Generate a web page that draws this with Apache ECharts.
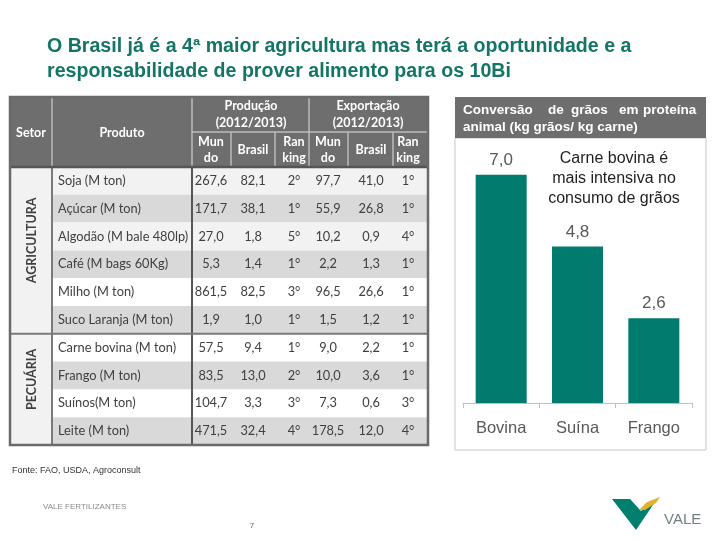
<!DOCTYPE html>
<html>
<head>
<meta charset="utf-8">
<script src="https://cdn.jsdelivr.net/npm/echarts@6/dist/echarts.min.js"></script>
<style>
html,body{margin:0;padding:0;background:#fff;}
#c{width:720px;height:540px;}
</style>
</head>
<body>
<div id="c"></div>
<script>
// ---------- DATA ----------
const titleLines = ['O Brasil já é a 4ª maior agricultura mas terá a oportunidade e a', 'responsabilidade de prover alimento para os 10Bi'];
const sectors = ['AGRICULTURA', 'PECUÁRIA'];
const sectorRowCounts = [6, 4];
const products = ['Soja (M ton)', 'Açúcar (M ton)', 'Algodão (M bale 480lp)', 'Café (M bags 60Kg)', 'Milho (M ton)', 'Suco Laranja (M ton)', 'Carne bovina (M ton)', 'Frango (M ton)', 'Suínos(M ton)', 'Leite (M ton)'];
const prodMundo = [267.6, 171.7, 27.0, 5.3, 861.5, 1.9, 57.5, 83.5, 104.7, 471.5];
const prodBrasil = [82.1, 38.1, 1.8, 1.4, 82.5, 1.0, 9.4, 13.0, 3.3, 32.4];
const prodRank = [2, 1, 5, 1, 3, 1, 1, 2, 3, 4];
const expMundo = [97.7, 55.9, 10.2, 2.2, 96.5, 1.5, 9.0, 10.0, 7.3, 178.5];
const expBrasil = [41.0, 26.8, 0.9, 1.3, 26.6, 1.2, 2.2, 3.6, 0.6, 12.0];
const expRank = [1, 1, 4, 1, 1, 1, 1, 1, 3, 4];
const convCategories = ['Bovina', 'Suína', 'Frango'];
const convValues = [7.0, 4.8, 2.6];
const panelTitle = ['Conversão de grãos em proteína', 'animal (kg grãos/ kg carne)'];
const noteLines = ['Carne bovina é', 'mais intensiva no', 'consumo de grãos'];
const sourceText = 'Fonte: FAO, USDA, Agroconsult';
const footerLeft = 'VALE FERTILIZANTES';
const pageNumber = '7';

// ---------- LAYOUT ----------
const T = {l: 10, r: 428, top: 97, sub: 132, head: 167, rowH: 27.8};
const colX = [10, 52, 192, 231, 275, 309, 348, 393, 428];
const numCenters = [211, 253, 294, 328, 371, 408];
const rowFills = ['#f2f2f2', '#d9d9d9', '#f2f2f2', '#d9d9d9', '#ffffff', '#d9d9d9', '#ffffff', '#d9d9d9', '#ffffff', '#d9d9d9'];
const tableFont = 'Lato, "Open Sans", sans-serif';
const arial = '"Liberation Sans", Arial, sans-serif';
const fmt = v => v.toFixed(1).replace('.', ',');

const g = [];
const bottom = T.head + T.rowH * products.length;

// header background
g.push({type: 'rect', shape: {x: T.l, y: T.top, width: T.r - T.l, height: T.head - T.top}, style: {fill: '#6e6e6e'}, z: 1});
// rows
products.forEach((p, i) => {
  const y = T.head + i * T.rowH;
  g.push({type: 'rect', shape: {x: colX[1], y: y, width: T.r - colX[1], height: T.rowH}, style: {fill: rowFills[i]}, z: 1});
});
g.push({type: 'rect', shape: {x: T.l, y: T.head, width: colX[1] - T.l, height: bottom - T.head}, style: {fill: '#f2f2f2'}, z: 1});

// header inner lines
const hl = {stroke: '#bdbdbd', lineWidth: 1.5};
[colX[1], colX[2], colX[5]].forEach(x => g.push({type: 'line', shape: {x1: x, y1: T.top, x2: x, y2: T.head}, style: hl, z: 3}));
[colX[3], colX[4], colX[6], colX[7]].forEach(x => g.push({type: 'line', shape: {x1: x, y1: T.sub, x2: x, y2: T.head}, style: hl, z: 3}));
g.push({type: 'line', shape: {x1: colX[2], y1: T.sub, x2: T.r, y2: T.sub}, style: hl, z: 3});
g.push({type: 'line', shape: {x1: T.l, y1: T.head, x2: T.r, y2: T.head}, style: {stroke: '#555', lineWidth: 2.5}, z: 4});

// body lines
const bl = {stroke: '#7a7a7a', lineWidth: 2};
g.push({type: 'line', shape: {x1: colX[1], y1: T.head, x2: colX[1], y2: bottom}, style: bl, z: 3});
g.push({type: 'line', shape: {x1: colX[2], y1: T.head, x2: colX[2], y2: bottom}, style: {stroke: '#555', lineWidth: 2}, z: 3});
const sepY = T.head + sectorRowCounts[0] * T.rowH;
g.push({type: 'line', shape: {x1: T.l, y1: sepY, x2: T.r, y2: sepY}, style: bl, z: 3});
g.push({type: 'rect', shape: {x: T.l, y: T.top, width: T.r - T.l, height: bottom - T.top}, style: {fill: null, stroke: '#6a6a6a', lineWidth: 2.5}, z: 5});

function txt(text, x, y, opt) {
  opt = opt || {};
  return {type: 'text', x: x, y: y, rotation: opt.rotation || 0, z: 10,
    style: {text: text, fill: opt.fill || '#404040', font: opt.font || ('12px ' + tableFont),
      align: opt.align || 'center', verticalAlign: 'middle', textAlign: opt.align || 'center', textVerticalAlign: 'middle'}};
}
const hf = 'bold 12.5px ' + tableFont;
const W = '#ffffff';
g.push(txt('Setor', 31, 133, {fill: W, font: hf}));
g.push(txt('Produto', 122, 133, {fill: W, font: hf}));
g.push(txt('Produção', 251, 106, {fill: W, font: hf}));
g.push(txt('(2012/2013)', 251, 123, {fill: W, font: hf}));
g.push(txt('Exportação', 368, 106, {fill: W, font: hf}));
g.push(txt('(2012/2013)', 368, 123, {fill: W, font: hf}));
[[0, 'Mun', 'do'], [2, 'Ran', 'king'], [3, 'Mun', 'do'], [5, 'Ran', 'king']].forEach(s => {
  g.push(txt(s[1], numCenters[s[0]], 142, {fill: W, font: hf}));
  g.push(txt(s[2], numCenters[s[0]], 158, {fill: W, font: hf}));
});
[1, 4].forEach(k => g.push(txt('Brasil', numCenters[k], 150, {fill: W, font: hf})));

// body texts
const bf = '12.8px ' + tableFont;
products.forEach((p, i) => {
  const y = T.head + (i + 0.5) * T.rowH;
  g.push(txt(p, 58, y, {align: 'left', font: bf}));
  const vals = [fmt(prodMundo[i]), fmt(prodBrasil[i]), prodRank[i] + '°', fmt(expMundo[i]), fmt(expBrasil[i]), expRank[i] + '°'];
  vals.forEach((v, k) => g.push(txt(v, numCenters[k], y, {font: bf})));
});
// sector vertical labels
let acc = 0;
sectors.forEach((s, k) => {
  const y0 = T.head + acc * T.rowH, y1 = y0 + sectorRowCounts[k] * T.rowH;
  acc += sectorRowCounts[k];
  g.push(txt(s, 32, (y0 + y1) / 2 - 10, {rotation: Math.PI / 2, font: 'bold 12.5px ' + tableFont}));
});

// right panel
g.push({type: 'rect', shape: {x: 455, y: 138, width: 251, height: 312}, style: {fill: null, stroke: '#c8c8c8', lineWidth: 1}, z: 1});
g.push({type: 'rect', shape: {x: 455, y: 97, width: 251, height: 41}, style: {fill: '#6e6e6e'}, z: 2});
const pf = 'bold 13.5px ' + arial;
const words = panelTitle[0].split(' ');
const wordX = [463, 548, 571, 619, 643];
words.forEach((w, k) => g.push(txt(w, wordX[k], 110, {align: 'left', fill: W, font: pf})));
g.push(txt(panelTitle[1], 463, 127, {align: 'left', fill: W, font: pf}));
noteLines.forEach((l, k) => g.push(txt(l, 614, 159 + k * 20, {fill: '#1e1e1e', font: '16px ' + arial})));

// footer
g.push(txt(sourceText, 12, 471, {align: 'left', fill: '#333', font: '9px ' + arial}));
g.push(txt(footerLeft, 43, 507, {align: 'left', fill: '#8a8a8a', font: '8px ' + arial}));
g.push(txt(pageNumber, 252, 526, {fill: '#666', font: '8px ' + arial}));
// logo
g.push({type: 'polygon', shape: {points: [[612, 499], [630, 499], [641, 511], [657, 499], [636, 530]]}, style: {fill: '#007f6c'}, z: 5});
g.push({type: 'polygon', shape: {points: [[639, 510], [647, 502], [660, 497], [656, 503], [645, 510]]}, style: {fill: '#e3b22b'}, z: 6});
g.push(txt('VALE', 664, 520, {align: 'left', fill: '#6f8283', font: '15px ' + arial}));

const chart = echarts.init(document.getElementById('c'), null, {renderer: 'canvas'});
chart.setOption({
  backgroundColor: '#ffffff',
  animation: false,
  title: {
    text: titleLines.join('\n'), left: 42, top: 29,
    textStyle: {color: '#137565', fontSize: 19.6, fontWeight: 'bold', lineHeight: 25,
      fontFamily: '"Liberation Sans Narrow", "Liberation Sans", Arial, sans-serif'}
  },
  grid: {left: 463, width: 229, top: 142, height: 261, containLabel: false},
  xAxis: {
    type: 'category', data: convCategories, z: 30,
    axisLine: {lineStyle: {color: '#bfbfbf', width: 1}},
    axisTick: {show: true, length: 5, lineStyle: {color: '#bfbfbf'}},
    axisLabel: {color: '#595959', fontSize: 16.5, margin: 17, fontFamily: arial}
  },
  yAxis: {type: 'value', min: 0, max: 8, show: false},
  series: [{
    type: 'bar', data: convValues, barWidth: 51,
    itemStyle: {color: '#007b6d'},
    label: {show: true, position: 'top', distance: 6, color: '#595959', fontSize: 17,
      fontFamily: arial, formatter: p => fmt(p.value)},
    z: 20
  }],
  graphic: {elements: g}
});
</script>
</body>
</html>
